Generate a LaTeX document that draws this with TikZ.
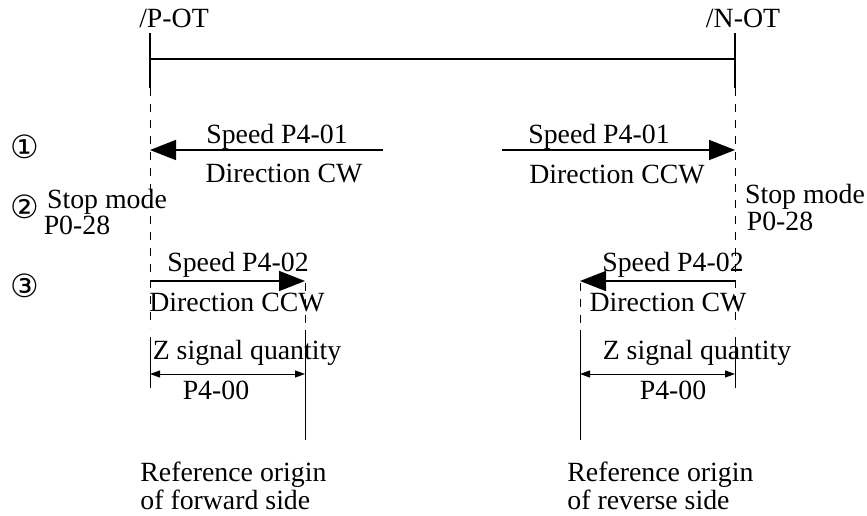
\documentclass[tikz,border=0pt]{standalone}
\usepackage{fontspec}
\setmainfont{Liberation Serif}
\newfontfamily\circfont{DejaVu Sans}
\usetikzlibrary{arrows.meta}

\begin{document}
\begin{tikzpicture}[x=0.5pt,y=-0.5pt,
    lbl/.style={inner sep=0pt,font=\fontsize{13.9}{14}\selectfont},
    num/.style={inner sep=0pt,font=\circfont\fontsize{16}{16}\selectfont},
    limit/.style={line width=0.6pt},
    guide/.style={line width=0.5pt,dash pattern=on 4pt off 4pt},
    move/.style={line width=0.8pt,-{Triangle[length=13pt,width=10pt]}},
    dim/.style={line width=0.5pt,{Triangle[length=5pt,width=3.5pt]}-{Triangle[length=5pt,width=3.5pt]}}]
      \useasboundingbox (0,0) rectangle (867,515);

      % limit switches
      \coordinate (pTop) at (150,33);
      \coordinate (pMid) at (150,88);
      \coordinate (pLow) at (150,328);
      \coordinate (nTop) at (735,33);
      \coordinate (nMid) at (735,88);
      \coordinate (nLow) at (735,328);
      \coordinate (pBar) at (150,59);
      \coordinate (nBar) at (735,59);

      \draw[limit] (pTop) -- (pMid);
      \draw[limit] (nTop) -- (nMid);
      \draw[limit] (pBar) -- (nBar);
      \draw[guide] (pMid) -- (pLow);
      \draw[guide] (nMid) -- (nLow);

      \node[lbl] (pot) at (174,18) {/P-OT};
      \node[lbl] (not) at (743,18) {/N-OT};

      % step 1
      \coordinate (a1s) at (383,150);
      \coordinate (a1e) at (150,150);
      \coordinate (b1s) at (502,150);
      \coordinate (b1e) at (735,150);
      \draw[move] (a1s) -- (a1e);
      \draw[move] (b1s) -- (b1e);

      \node[num] (one) at (24.5,147) {①};
      \node[lbl] (spdA) at (277,137) {Speed P4-01};
      \node[lbl] (dirA) at (284,173) {Direction CW};
      \node[lbl] (spdB) at (599,137) {Speed P4-01};
      \node[lbl] (dirB) at (617,175) {Direction CCW};

      % step 2
      \node[num] (two) at (24.5,207) {②};
      \node[lbl] (stopA) at (107,202) {Stop mode};
      \node[lbl] (parA) at (77,225) {P0-28};
      \node[lbl] (stopB) at (805,197) {Stop mode};
      \node[lbl] (parB) at (780,221) {P0-28};

      % step 3
      \coordinate (a3s) at (150,281);
      \coordinate (a3e) at (305,281);
      \coordinate (b3s) at (735,281);
      \coordinate (b3e) at (580,281);
      \draw[move] (a3s) -- (a3e);
      \draw[move] (b3s) -- (b3e);

      \coordinate (fA) at (305,283);
      \coordinate (fB) at (305,330);
      \coordinate (fC) at (305,440);
      \coordinate (rA) at (580,283);
      \coordinate (rB) at (580,330);
      \coordinate (rC) at (580,440);
      \draw[guide] (fA) -- (fB);
      \draw[guide] (rA) -- (rB);
      \draw[line width=0.5pt] (fB) -- (fC);
      \draw[line width=0.5pt] (rB) -- (rC);

      \coordinate (tpA) at (150,337);
      \coordinate (tpB) at (150,388);
      \coordinate (tnA) at (735,337);
      \coordinate (tnB) at (735,388);
      \draw[line width=0.5pt] (tpA) -- (tpB);
      \draw[line width=0.5pt] (tnA) -- (tnB);

      \coordinate (zpL) at (150,374);
      \coordinate (zpR) at (305,374);
      \coordinate (znL) at (580,374);
      \coordinate (znR) at (735,374);
      \draw[dim] (zpL) -- (zpR);
      \draw[dim] (znL) -- (znR);

      \node[num] (three) at (24.5,286) {③};
      \node[lbl] (spdC) at (238,265) {Speed P4-02};
      \node[lbl] (dirC) at (237,302) {Direction CCW};
      \node[lbl] (spdD) at (673,265) {Speed P4-02};
      \node[lbl] (dirD) at (668,302) {Direction CW};
      \node[lbl] (zA) at (247,353) {Z signal quantity};
      \node[lbl] (zB) at (697,353) {Z signal quantity};
      \node[lbl] (pA) at (216,390) {P4-00};
      \node[lbl] (pB) at (673,390) {P4-00};

      \node[lbl,align=left,anchor=west] (fwd) at (140,486) {Reference origin\\of forward side};
      \node[lbl,align=left,anchor=west] (rev) at (567,486) {Reference origin\\of reverse side};

    \end{tikzpicture}
\end{document}
